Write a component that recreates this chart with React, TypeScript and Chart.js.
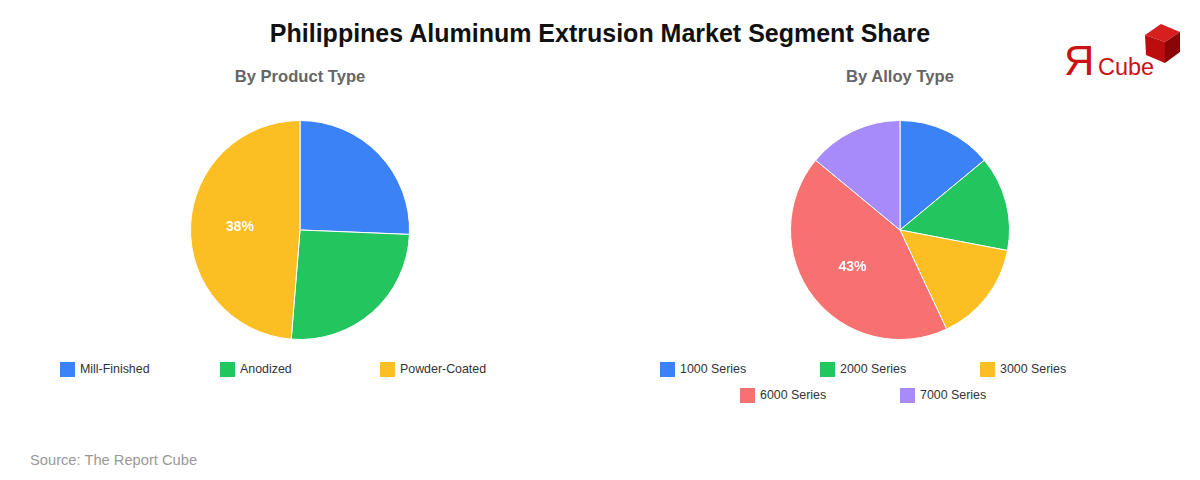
import React, { useEffect, useRef } from "react";
import { Chart, registerables } from "chart.js";

Chart.register(...registerables);

const TITLE = "Philippines Aluminum Extrusion Market Segment Share";
const SOURCE = "Source: The Report Cube";

const productTitle = "By Product Type";
const productLabels = ["Mill-Finished", "Anodized", "Powder-Coated"];
const productValues = [20, 20, 38];
const productColors = ["#3b82f6", "#22c55e", "#fbbf24"];

const alloyTitle = "By Alloy Type";
const alloyLabels = ["1000 Series", "2000 Series", "3000 Series", "6000 Series", "7000 Series"];
const alloyValues = [14, 14, 15, 43, 14];
const alloyColors = ["#3b82f6", "#22c55e", "#fbbf24", "#f87171", "#a78bfa"];

const FONT = "'Liberation Sans', Arial, Helvetica, sans-serif";

const labelPlugin = {
  id: "bigLabel",
  afterDatasetsDraw(chart: any) {
    const ds = chart.data.datasets[0];
    const meta = chart.getDatasetMeta(0);
    const values: number[] = ds.data;
    const max = Math.max(...values);
    const ctx = chart.ctx;
    meta.data.forEach((arc: any, i: number) => {
      if (values[i] !== max) return;
      const { x, y, startAngle, endAngle, outerRadius } = arc.getProps(
        ["x", "y", "startAngle", "endAngle", "outerRadius"],
        true
      );
      const mid = (startAngle + endAngle) / 2;
      const r = outerRadius * 0.55;
      ctx.save();
      ctx.fillStyle = "#ffffff";
      ctx.font = `bold 14px ${FONT}`;
      ctx.textAlign = "center";
      ctx.textBaseline = "middle";
      ctx.fillText(`${values[i]}%`, x + Math.cos(mid) * r, y + Math.sin(mid) * r);
      ctx.restore();
    });
  },
};

function Pie({ labels, values, colors }: { labels: string[]; values: number[]; colors: string[] }) {
  const ref = useRef<HTMLCanvasElement>(null);
  useEffect(() => {
    if (!ref.current) return;
    const chart = new Chart(ref.current, {
      type: "pie",
      data: {
        labels,
        datasets: [
          {
            data: values,
            backgroundColor: colors,
            borderColor: "#ffffff",
            borderWidth: 1,
          },
        ],
      },
      options: {
        animation: false,
        responsive: false,
        maintainAspectRatio: false,
        layout: { padding: 0 },
        plugins: { legend: { display: false }, tooltip: { enabled: false }, title: { display: false } },
      },
      plugins: [labelPlugin],
    });
    return () => chart.destroy();
  }, []);
  return <canvas ref={ref} width={600} height={220} style={{ display: "block" }} />;
}

function Legend({ labels, colors }: { labels: string[]; colors: string[] }) {
  return (
    <div
      style={{
        display: "flex",
        flexWrap: "wrap",
        justifyContent: "center",
        width: 480,
        margin: "0 auto",
        rowGap: 11,
      }}
    >
      {labels.map((l, i) => (
        <div key={l} style={{ width: 160, display: "flex", alignItems: "center", height: 15 }}>
          <span style={{ width: 15, height: 15, background: colors[i], display: "inline-block", marginRight: 5 }} />
          <span style={{ fontSize: 12.4, color: "#333", fontFamily: FONT, lineHeight: "15px" }}>{l}</span>
        </div>
      ))}
    </div>
  );
}

function Panel({
  left,
  title,
  labels,
  values,
  colors,
}: {
  left: number;
  title: string;
  labels: string[];
  values: number[];
  colors: string[];
}) {
  return (
    <div style={{ position: "absolute", left, top: 0, width: 600, height: 480 }}>
      <div
        style={{
          position: "absolute",
          top: 67,
          width: 600,
          textAlign: "center",
          fontSize: 16.6,
          fontWeight: "bold",
          color: "#666",
          fontFamily: FONT,
          lineHeight: "20px",
        }}
      >
        {title}
      </div>
      <div style={{ position: "absolute", top: 120, left: 0 }}>
        <Pie labels={labels} values={values} colors={colors} />
      </div>
      <div style={{ position: "absolute", top: 362, left: 0, width: 600 }}>
        <Legend labels={labels} colors={colors} />
      </div>
    </div>
  );
}

function Logo() {
  return (
    <svg
      width={130}
      height={60}
      viewBox="0 0 130 60"
      style={{ position: "absolute", left: 1058, top: 24 }}
    >
      <text x={6} y={51} fontFamily={FONT} fontSize={42} fill="#cc1111">
        Я
      </text>
      <text x={40} y={51} fontFamily={FONT} fontSize={23.5} fill="#cc1111">
        Cube
      </text>
      <polygon points="87,11 103,0 122,8 107,18" fill="#d62020" />
      <polygon points="87,11 107,18 107,39 88,31" fill="#bb0d0d" />
      <polygon points="107,18 122,8 122,28 107,39" fill="#8a0505" />
    </svg>
  );
}

export default function App() {
  useEffect(() => {
    document.body.style.margin = "0";
  }, []);
  return (
    <div
      style={{
        position: "fixed",
        left: 0,
        top: 0,
        width: 1200,
        height: 480,
        background: "#ffffff",
        overflow: "hidden",
        fontFamily: FONT,
      }}
    >
      <div
        style={{
          position: "absolute",
          top: 18,
          width: 1200,
          textAlign: "center",
          fontSize: 25,
          fontWeight: "bold",
          color: "#111",
          lineHeight: "30px",
        }}
      >
        {TITLE}
      </div>
      <Logo />
      <Panel left={0} title={productTitle} labels={productLabels} values={productValues} colors={productColors} />
      <Panel left={600} title={alloyTitle} labels={alloyLabels} values={alloyValues} colors={alloyColors} />
      <div
        style={{
          position: "absolute",
          left: 30,
          top: 451,
          fontSize: 14.7,
          color: "#999",
          lineHeight: "18px",
        }}
      >
        {SOURCE}
      </div>
    </div>
  );
}
